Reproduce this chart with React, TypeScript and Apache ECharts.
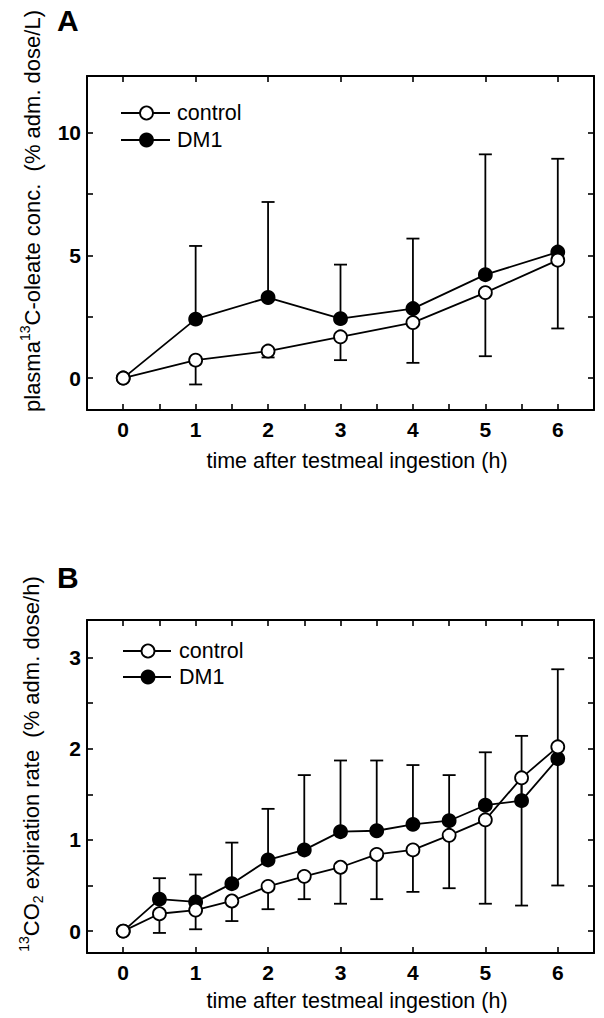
import React, { useEffect, useRef } from "react";
import * as echarts from "echarts";

// Panel A: plasma 13C-oleate concentration (% adm. dose/L)
const hoursA = [0, 1, 2, 3, 4, 5, 6];
const plasmaControl = [0, 0.73, 1.1, 1.68, 2.26, 3.48, 4.8];
const plasmaControlLower = [null, -0.26, 0.84, 0.73, 0.62, 0.89, 2.02];
const plasmaDM1 = [0, 2.4, 3.28, 2.42, 2.83, 4.21, 5.13];
const plasmaDM1Upper = [null, 5.38, 7.17, 4.62, 5.68, 9.11, 8.93];

// Panel B: 13CO2 expiration rate (% adm. dose/h)
const hoursB = [0, 0.5, 1, 1.5, 2, 2.5, 3, 3.5, 4, 4.5, 5, 5.5, 6];
const co2Control = [0, 0.19, 0.23, 0.33, 0.49, 0.6, 0.7, 0.84, 0.89, 1.05, 1.22, 1.68, 2.02];
const co2ControlLower = [null, -0.02, 0.02, 0.11, 0.24, 0.35, 0.3, 0.35, 0.43, 0.47, 0.3, 0.28, 0.5];
const co2DM1 = [0, 0.35, 0.32, 0.52, 0.78, 0.89, 1.09, 1.1, 1.17, 1.21, 1.38, 1.43, 1.89];
const co2DM1Upper = [null, 0.58, 0.62, 0.97, 1.34, 1.71, 1.87, 1.87, 1.82, 1.71, 1.96, 2.14, 2.87];

// Tick labels
const xLabels = [0, 1, 2, 3, 4, 5, 6];
const xHalfTicks = [0, 0.5, 1, 1.5, 2, 2.5, 3, 3.5, 4, 4.5, 5, 5.5, 6];
const yLabelsA = [0, 5, 10];
const yTicksA = [0, 2.5, 5, 7.5, 10];
const yLabelsB = [0, 1, 2, 3];
const yTicksB = [0, 0.5, 1, 1.5, 2, 2.5, 3];

const FONT = "Liberation Sans, Arial, Helvetica, sans-serif";
const BLACK = "#000";
const LW = 1.8;

function pairs(xs: number[], ys: number[]) {
  return xs.map((x, i) => [x, ys[i]]);
}
function bars(xs: number[], from: number[], to: (number | null)[]) {
  const out: number[][] = [];
  xs.forEach((x, i) => {
    const t = to[i];
    if (t !== null && t !== undefined) out.push([x, from[i], t]);
  });
  return out;
}

const renderErrorBar = (params: any, api: any) => {
  const x = api.value(0);
  const a = api.coord([x, api.value(1)]);
  const b = api.coord([x, api.value(2)]);
  const st = { stroke: BLACK, lineWidth: LW };
  return {
    type: "group",
    children: [
      { type: "line", shape: { x1: a[0], y1: a[1], x2: b[0], y2: b[1] }, style: st },
      { type: "line", shape: { x1: b[0] - 6.5, y1: b[1], x2: b[0] + 6.5, y2: b[1] }, style: st },
    ],
  };
};

function xAxis(gridIndex: number, position: string, ticks: number[], labels: boolean) {
  return {
    type: "value",
    gridIndex,
    position,
    min: -0.5,
    max: 6.5,
    axisLine: { show: true, onZero: false, lineStyle: { color: BLACK, width: 2 } },
    axisTick: { show: true, inside: true, length: 6, customValues: ticks, lineStyle: { color: BLACK, width: 1.6 } },
    axisLabel: labels
      ? { show: true, customValues: xLabels, margin: 9, color: BLACK, fontFamily: FONT, fontWeight: "bold", fontSize: 21 }
      : { show: false },
    splitLine: { show: false },
  };
}

function yAxis(gridIndex: number, position: string, min: number, max: number, ticks: number[], labelVals: number[] | null) {
  return {
    type: "value",
    gridIndex,
    position,
    min,
    max,
    axisLine: { show: true, onZero: false, lineStyle: { color: BLACK, width: 2 } },
    axisTick: { show: true, inside: true, length: 6, customValues: ticks, lineStyle: { color: BLACK, width: 1.6 } },
    axisLabel: labelVals
      ? { show: true, customValues: labelVals, margin: 6, color: BLACK, fontFamily: FONT, fontWeight: "bold", fontSize: 21 }
      : { show: false },
    splitLine: { show: false },
  };
}

function lineSeries(name: string, xi: number, yi: number, data: number[][], filled: boolean, z: number) {
  return {
    type: "line",
    name,
    xAxisIndex: xi,
    yAxisIndex: yi,
    data,
    z,
    symbol: "circle",
    symbolSize: 13,
    showSymbol: true,
    lineStyle: { color: BLACK, width: LW },
    itemStyle: { color: filled ? BLACK : "#fff", borderColor: BLACK, borderWidth: LW },
    emphasis: { disabled: true },
  };
}

function errSeries(xi: number, yi: number, data: number[][]) {
  return {
    type: "custom",
    xAxisIndex: xi,
    yAxisIndex: yi,
    data,
    z: 1,
    encode: { x: 0, y: [1, 2] },
    renderItem: renderErrorBar,
    silent: true,
  };
}

function legend(x0: number, x1: number, cx: number, tx: number, y1: number, y2: number) {
  const ls = { stroke: BLACK, lineWidth: LW };
  const ts = { fill: BLACK, font: `21.5px ${FONT}`, textVerticalAlign: "middle", textAlign: "left" } as any;
  return [
    { type: "line", shape: { x1: x0, y1, x2: x1, y2: y1 }, style: ls, z: 10 },
    { type: "circle", shape: { cx, cy: y1, r: 6.5 }, style: { fill: "#fff", stroke: BLACK, lineWidth: LW }, z: 11 },
    { type: "text", x: tx, y: y1, style: { ...ts, text: "control" }, z: 11 },
    { type: "line", shape: { x1: x0, y1: y2, x2: x1, y2: y2 }, style: ls, z: 10 },
    { type: "circle", shape: { cx, cy: y2, r: 6.5 }, style: { fill: BLACK, stroke: BLACK, lineWidth: LW }, z: 11 },
    { type: "text", x: tx, y: y2, style: { ...ts, text: "DM1" }, z: 11 },
  ];
}

const richTitle = {
  m: { fontSize: 22, fontFamily: FONT, lineHeight: 28, fill: BLACK },
  sup: { fontSize: 14, fontFamily: FONT, lineHeight: 12, verticalAlign: "top", fill: BLACK },
  sub: { fontSize: 14, fontFamily: FONT, lineHeight: 12, verticalAlign: "bottom", fill: BLACK },
};

export default function App() {
  const ref = useRef<HTMLDivElement>(null);
  useEffect(() => {
    if (!ref.current) return;
    const chart = echarts.init(ref.current, null, { renderer: "svg" });
    const option: any = {
      animation: false,
      backgroundColor: "#fff",
      grid: [
        { left: 87, top: 76, width: 507, height: 334, containLabel: false },
        { left: 87, top: 620, width: 507, height: 333, containLabel: false },
      ],
      xAxis: [
        xAxis(0, "bottom", xHalfTicks, true),
        xAxis(0, "top", xLabels, false),
        xAxis(1, "bottom", xLabels, true),
        xAxis(1, "top", xHalfTicks, false),
      ],
      yAxis: [
        yAxis(0, "left", -1.3, 12.3, yTicksA, yLabelsA),
        yAxis(0, "right", -1.3, 12.3, yTicksA, null),
        yAxis(1, "left", -0.24, 3.41, yTicksB, yLabelsB),
        yAxis(1, "right", -0.24, 3.41, yTicksB, null),
      ],
      series: [
        errSeries(0, 0, bars(hoursA, plasmaDM1, plasmaDM1Upper)),
        errSeries(0, 0, bars(hoursA, plasmaControl, plasmaControlLower)),
        lineSeries("DM1", 0, 0, pairs(hoursA, plasmaDM1), true, 2),
        lineSeries("control", 0, 0, pairs(hoursA, plasmaControl), false, 3),
        errSeries(2, 2, bars(hoursB, co2DM1, co2DM1Upper)),
        errSeries(2, 2, bars(hoursB, co2Control, co2ControlLower)),
        lineSeries("DM1", 2, 2, pairs(hoursB, co2DM1), true, 2),
        lineSeries("control", 2, 2, pairs(hoursB, co2Control), false, 3),
      ],
      graphic: [
        { type: "text", x: 57, y: 20, style: { text: "A", font: `bold 30px ${FONT}`, fill: BLACK, textVerticalAlign: "middle" } },
        { type: "text", x: 57, y: 577, style: { text: "B", font: `bold 30px ${FONT}`, fill: BLACK, textVerticalAlign: "middle" } },
        {
          type: "text",
          x: 357,
          y: 461,
          style: { text: "time after testmeal ingestion (h)", font: `21.5px ${FONT}`, fill: BLACK, textAlign: "center", textVerticalAlign: "middle" },
        },
        {
          type: "text",
          x: 357,
          y: 1001,
          style: { text: "time after testmeal ingestion (h)", font: `21.5px ${FONT}`, fill: BLACK, textAlign: "center", textVerticalAlign: "middle" },
        },
        {
          type: "text",
          x: 32,
          y: 211,
          rotation: Math.PI / 2,
          style: {
            text: "{m|plasma}{sup|13}{m|C-oleate conc.  (% adm. dose/L)}",
            rich: richTitle,
            textAlign: "center",
            textVerticalAlign: "middle",
          },
        },
        {
          type: "text",
          x: 31,
          y: 764,
          rotation: Math.PI / 2,
          style: {
            text: "{sup|13}{m|CO}{sub|2}{m| expiration rate  (% adm. dose/h)}",
            rich: richTitle,
            textAlign: "center",
            textVerticalAlign: "middle",
          },
        },
        ...legend(121, 170, 146.5, 177, 113, 140),
        ...legend(123, 171, 148, 179, 651, 677),
      ],
    };
    chart.setOption(option);
    return () => chart.dispose();
  }, []);
  return <div ref={ref} style={{ position: "absolute", left: 0, top: 0, width: 604, height: 1018 }} />;
}
